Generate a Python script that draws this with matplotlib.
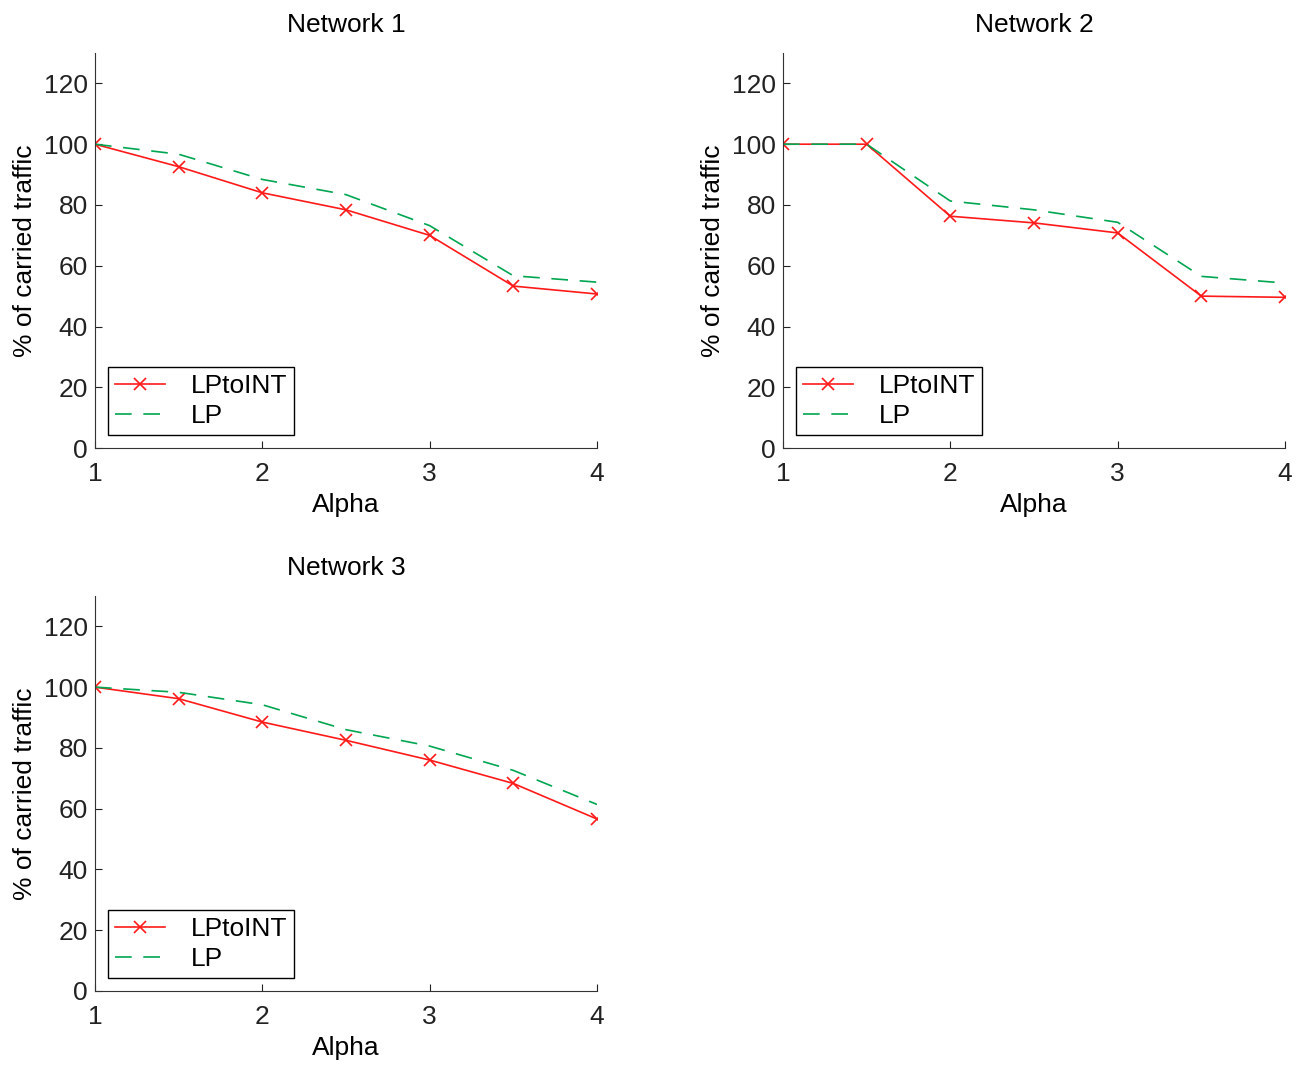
#!/usr/bin/env python3

import matplotlib
matplotlib.use('Agg')
import matplotlib.pyplot as plt

plt.rcParams['font.family'] = ['Liberation Sans', 'DejaVu Sans']

alpha = [1, 1.5, 2, 2.5, 3, 3.5, 4]

# Network 1
net1_lptoint = [100, 92.6, 84.0, 78.4, 70.0, 53.3, 50.7]
net1_lp = [100, 96.7, 88.4, 83.4, 73.2, 56.7, 54.6]
# Network 2
net2_lptoint = [100, 100, 76.3, 74.1, 70.8, 50.0, 49.6]
net2_lp = [100, 100, 81.3, 78.4, 74.3, 56.5, 54.3]
# Network 3
net3_lptoint = [100, 96.2, 88.5, 82.5, 76.0, 68.3, 56.6]
net3_lp = [100, 98.3, 94.2, 86.0, 80.6, 72.6, 61.4]

titles = ['Network 1', 'Network 2', 'Network 3']
series = [(net1_lptoint, net1_lp), (net2_lptoint, net2_lp), (net3_lptoint, net3_lp)]
x_ticks = [1, 2, 3, 4]
y_ticks = [0, 20, 40, 60, 80, 100, 120]

red = '#ff1a1a'
green = '#00a651'
fs = 19

fig = plt.figure(figsize=(13.06, 10.65), dpi=100)
# axes positions in figure fractions
positions = [
    [0.0727, 0.5793, 0.3844, 0.3709],
    [0.5995, 0.5793, 0.3844, 0.3709],
    [0.0727, 0.0695, 0.3844, 0.3709],
]

for pos, title, (lptoint, lp) in zip(positions, titles, series):
    ax = fig.add_axes(pos)
    ax.plot(alpha, lptoint, color=red, lw=1.2, marker='x', markersize=9,
            markeredgewidth=1.2, label='LPtoINT')
    ax.plot(alpha, lp, color=green, lw=1.2, ls=(0, (10, 7)), label='LP')
    ax.set_xlim(1, 4)
    ax.set_ylim(0, 130)
    ax.set_xticks(x_ticks)
    ax.set_yticks(y_ticks)
    ax.spines['top'].set_visible(False)
    ax.spines['right'].set_visible(False)
    ax.spines['left'].set_color('#333333')
    ax.spines['bottom'].set_color('#333333')
    ax.tick_params(direction='in', length=5, labelsize=fs, colors='#222222')
    ax.tick_params(axis='x', pad=10)
    ax.tick_params(axis='y', pad=5)
    ax.set_title(title, fontsize=fs, pad=15)
    ax.set_xlabel('Alpha', fontsize=fs, labelpad=5)
    ax.set_ylabel('% of carried traffic', fontsize=fs, labelpad=5)
    leg = ax.legend(loc='lower left', bbox_to_anchor=(0.026, 0.033),
                    borderaxespad=0, fontsize=fs,
                    fancybox=False, framealpha=1, edgecolor='black',
                    handlelength=1.9, borderpad=0.25, labelspacing=0.25,
                    handletextpad=1.0)
    leg.get_frame().set_linewidth(1.0)

plt.savefig('out.png', dpi=100)
